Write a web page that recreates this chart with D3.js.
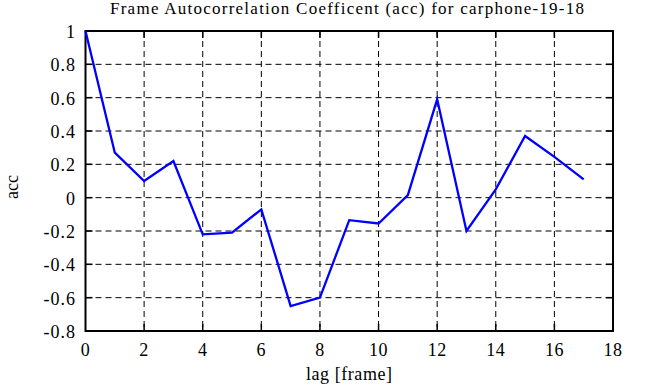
<!DOCTYPE html>
<html>
<head>
<meta charset="utf-8">
<script src="https://cdn.jsdelivr.net/npm/d3@7"></script>
<style>
  body { margin: 0; background: #fff; }
  text { font-family: "Liberation Serif", "Times New Roman", serif; fill: #000; }
</style>
</head>
<body>
<svg id="chart" width="646" height="387"></svg>
<script>
// lag values and their autocorrelation coefficient
const lags = [0, 1, 2, 3, 4, 5, 6, 7, 8, 9, 10, 11, 12, 13, 14, 15, 16, 17];
const accValues = [1.0, 0.27, 0.10, 0.22, -0.22, -0.21, -0.07, -0.65, -0.60, -0.135, -0.155, 0.015, 0.59, -0.20, 0.05, 0.37, 0.245, 0.11];
const xTicks = [0, 2, 4, 6, 8, 10, 12, 14, 16, 18];
const yTicks = [-0.8, -0.6, -0.4, -0.2, 0, 0.2, 0.4, 0.6, 0.8, 1];

const svg = d3.select('#chart');
const plotLeft = 85.5, plotRight = 613, plotTop = 31, plotBottom = 331;

const x = d3.scaleLinear().domain([0, 18]).range([plotLeft, plotRight]);
const y = d3.scaleLinear().domain([-0.8, 1]).range([plotBottom, plotTop]);

// dashed grid
svg.append('g')
    .selectAll('line')
    .data(xTicks.slice(1, -1))
    .join('line')
    .attr('x1', d => x(d)).attr('x2', d => x(d))
    .attr('y1', plotTop).attr('y2', plotBottom)
    .attr('stroke', '#000').attr('stroke-width', 1)
    .attr('stroke-dasharray', '6,4');

svg.append('g')
    .selectAll('line')
    .data(yTicks.slice(1, -1))
    .join('line')
    .attr('x1', plotLeft).attr('x2', plotRight)
    .attr('y1', d => y(d)).attr('y2', d => y(d))
    .attr('stroke', '#000').attr('stroke-width', 1)
    .attr('stroke-dasharray', '6,4');

// inward tick marks on all four sides
const tickLen = 7;
const ticks = svg.append('g').attr('stroke', '#000').attr('stroke-width', 1.5);
xTicks.slice(1, -1).forEach(d => {
    ticks.append('line').attr('x1', x(d)).attr('x2', x(d)).attr('y1', plotTop).attr('y2', plotTop + tickLen);
    ticks.append('line').attr('x1', x(d)).attr('x2', x(d)).attr('y1', plotBottom).attr('y2', plotBottom - tickLen);
});
yTicks.slice(1, -1).forEach(d => {
    ticks.append('line').attr('x1', plotLeft).attr('x2', plotLeft + tickLen).attr('y1', y(d)).attr('y2', y(d));
    ticks.append('line').attr('x1', plotRight).attr('x2', plotRight - tickLen).attr('y1', y(d)).attr('y2', y(d));
});

// frame
svg.append('rect')
    .attr('x', plotLeft).attr('y', plotTop)
    .attr('width', plotRight - plotLeft).attr('height', plotBottom - plotTop)
    .attr('fill', 'none').attr('stroke', '#000').attr('stroke-width', 2);

// tick labels
svg.append('g')
    .selectAll('text')
    .data(xTicks)
    .join('text')
    .attr('x', d => x(d)).attr('y', 356)
    .attr('text-anchor', 'middle')
    .style('font-size', '18px')
    .style('letter-spacing', '0.5px')
    .text(d => d);

svg.append('g')
    .selectAll('text')
    .data(yTicks)
    .join('text')
    .attr('x', 76).attr('y', d => y(d) + 7)
    .attr('text-anchor', 'end')
    .style('font-size', '18px')
    .style('letter-spacing', '1px')
    .text(d => d);

// data line
const line = d3.line()
    .x((d, i) => x(lags[i]))
    .y(d => y(d));

svg.append('path')
    .datum(accValues)
    .attr('d', line)
    .attr('fill', 'none')
    .attr('stroke', '#0000ff')
    .attr('stroke-width', 2.3);

// titles
svg.append('text')
    .attr('x', 110).attr('y', 14)
    .attr('textLength', 474)
    .attr('lengthAdjust', 'spacing')
    .style('font-size', '17px')
    .text('Frame Autocorrelation Coefficent (acc) for carphone-19-18');

svg.append('text')
    .attr('x', 306).attr('y', 380)
    .attr('textLength', 86)
    .attr('lengthAdjust', 'spacing')
    .style('font-size', '18px')
    .text('lag [frame]');

svg.append('text')
    .attr('transform', 'translate(18,187) rotate(-90)')
    .attr('text-anchor', 'middle')
    .style('font-size', '18px')
    .text('acc');
</script>
</body>
</html>
